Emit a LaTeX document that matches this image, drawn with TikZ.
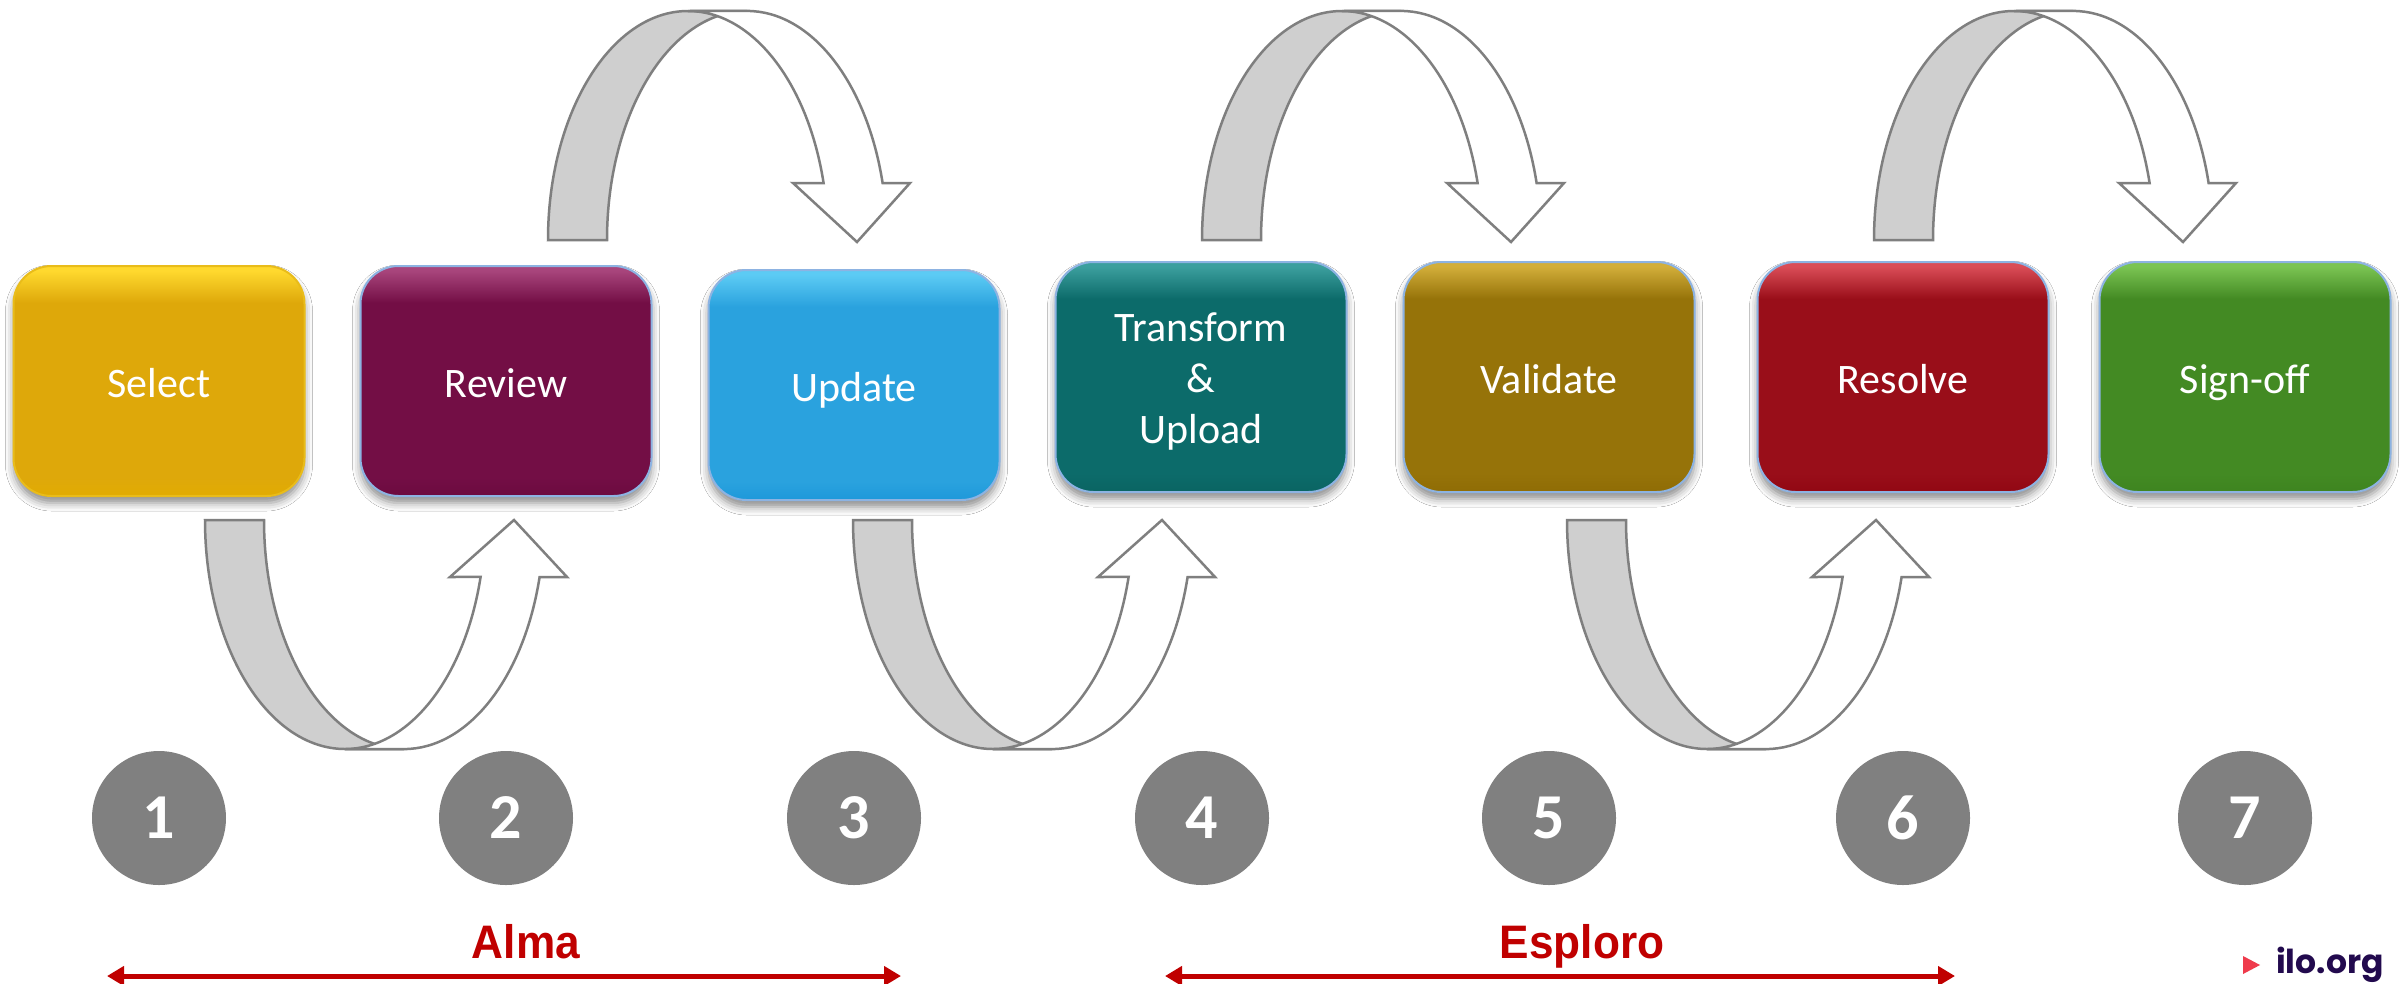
\documentclass[tikz,border=0pt]{standalone}
\usepackage{fontspec}
\setmainfont{Carlito}
\newfontfamily\phasefont[FakeStretch=0.94]{Liberation Sans}
\newfontfamily\ilofont{Poppins}
\usetikzlibrary{arrows.meta,shadows.blur}

\definecolor{arrowgrey}{HTML}{7F7F7F}
\definecolor{bandgrey}{HTML}{CFCFCF}
\definecolor{discgrey}{HTML}{808080}
\definecolor{phasered}{HTML}{C00000}
\definecolor{boxedge}{HTML}{8DB3E2}
\definecolor{ilored}{HTML}{EF3B4C}
\definecolor{ilotext}{HTML}{220A4E}
% box colours
\definecolor{selTop}{HTML}{FFD92E}\definecolor{selMain}{HTML}{DEA80A}\definecolor{selBot}{HTML}{E2AC02}\definecolor{selEdge}{HTML}{E9BC1A}
\definecolor{revTop}{HTML}{A8457C}\definecolor{revMain}{HTML}{730E45}\definecolor{revBot}{HTML}{6C0A3F}
\definecolor{updTop}{HTML}{5CCBF4}\definecolor{updMain}{HTML}{2AA2DE}\definecolor{updBot}{HTML}{1E98DA}
\definecolor{traTop}{HTML}{3C9F9E}\definecolor{traMain}{HTML}{0C6B6A}\definecolor{traBot}{HTML}{0A6462}
\definecolor{valTop}{HTML}{D2AE3A}\definecolor{valMain}{HTML}{967309}\definecolor{valBot}{HTML}{8F6C05}
\definecolor{resTop}{HTML}{DA4D57}\definecolor{resMain}{HTML}{990E19}\definecolor{resBot}{HTML}{910713}
\definecolor{sigTop}{HTML}{7BC453}\definecolor{sigMain}{HTML}{438A23}\definecolor{sigBot}{HTML}{3E8420}

\colorlet{bxtop}{white}\colorlet{bxmain}{gray}\colorlet{bxbot}{gray}
\pgfdeclareverticalshading[bxtop,bxmain,bxbot]{boxshade}{100bp}{color(0bp)=(bxbot); color(25bp)=(bxbot); color(29bp)=(bxmain); color(67bp)=(bxmain); color(74bp)=(bxtop); color(75bp)=(bxtop); color(100bp)=(bxtop)}

\tikzset{
  procbox/.style={rounded corners=38pt, minimum width=291pt, minimum height=230pt,
    inner sep=0pt, shade, shading=boxshade, line width=2pt,
    blur shadow={shadow xshift=0pt, shadow yshift=-7pt, shadow blur radius=8pt, shadow opacity=45}},
  boxlabel/.style={anchor=base, inner sep=0pt, text=white, font=\fontsize{42}{51}\selectfont},
  numdisc/.style={circle, fill=discgrey, minimum size=134pt, inner sep=0pt, text=white,
    font=\fontsize{64}{64}\selectfont\bfseries},
  greyband/.style={fill=bandgrey, draw=arrowgrey, line width=2.5pt},
  whiteband/.style={fill=white, draw=arrowgrey, line width=2.5pt},
  phaselabel/.style={anchor=base, inner sep=0pt, text=phasered, font=\phasefont\fontsize{47}{47}\selectfont\bfseries},
  phasearrow/.style={draw=phasered, line width=5pt, {Triangle[length=17pt,width=19pt]}-{Triangle[length=17pt,width=19pt]}}
}

\newcommand\procboxdraw[7]{%
  \begin{scope}
    \colorlet{bxtop}{#4}\colorlet{bxmain}{#5}\colorlet{bxbot}{#6}
    \node[procbox, draw=#7] (#1) at (#2,#3) {};
  \end{scope}}

% U-shaped arrow below (curved up arrow), #1 = left x
\newcommand\curveuparrow[1]{%
  \path[greyband] (#1,-520) arc[start angle=180,end angle=270,x radius=140,y radius=229]
     -- ({#1+199},-749) arc[start angle=270,end angle=180,x radius=140,y radius=229] -- cycle;
  \path[whiteband] ({#1+140},-749) arc[start angle=270,end angle=345.6,x radius=140,y radius=229]
     -- ({#1+245},-577) -- ({#1+309},-520) -- ({#1+362},-577) -- ({#1+334.6},-577)
     arc[start angle=345.6,end angle=270,x radius=140,y radius=229] -- cycle;}

% arch-shaped arrow above (curved down arrow), #1 = left x
\newcommand\curvedownarrow[1]{%
  \path[greyband] (#1,-240) arc[start angle=180,end angle=90,x radius=140,y radius=229]
     -- ({#1+199},-11) arc[start angle=90,end angle=180,x radius=140,y radius=229] -- cycle;
  \path[whiteband] ({#1+140},-11) arc[start angle=90,end angle=14.4,x radius=140,y radius=229]
     -- ({#1+245},-183) -- ({#1+309},-242) -- ({#1+362},-183) -- ({#1+334.6},-183)
     arc[start angle=14.4,end angle=90,x radius=140,y radius=229] -- cycle;}

\begin{document}
\begin{tikzpicture}[x=1pt,y=1pt]
\useasboundingbox[fill=white] (0,0) rectangle (2405,-983);

% curved arrows
\curveuparrow{205}
\curveuparrow{853}
\curveuparrow{1567}
\curvedownarrow{548}
\curvedownarrow{1202}
\curvedownarrow{1874}

% process boxes
\procboxdraw{b1}{159}{-381}{selTop}{selMain}{selBot}{selEdge}
\procboxdraw{b2}{506}{-381}{revTop}{revMain}{revBot}{boxedge}
\procboxdraw{b3}{854}{-385}{updTop}{updMain}{updBot}{boxedge}
\procboxdraw{b4}{1201}{-377}{traTop}{traMain}{traBot}{boxedge}
\procboxdraw{b5}{1549}{-377}{valTop}{valMain}{valBot}{boxedge}
\procboxdraw{b6}{1903}{-377}{resTop}{resMain}{resBot}{boxedge}
\procboxdraw{b7}{2245}{-377}{sigTop}{sigMain}{sigBot}{boxedge}

\node[boxlabel] (l1) at (159,-397) {Select};
\node[boxlabel] (l2) at (506,-397) {Review};
\node[boxlabel] (l3) at (854,-401) {Update};
\node[boxlabel] (l4a) at (1201,-341) {Transform};
\node[boxlabel] (l4b) at (1201,-392) {\&};
\node[boxlabel] (l4c) at (1201,-443) {Upload};
\node[boxlabel] (l5) at (1549,-393) {Validate};
\node[boxlabel] (l6) at (1903,-393) {Resolve};
\node[boxlabel] (l7) at (2245,-393) {Sign-off};

% numbered discs
\node[numdisc] (n1) at (159,-818) {1};
\node[numdisc] (n2) at (506,-818) {2};
\node[numdisc] (n3) at (854,-818) {3};
\node[numdisc] (n4) at (1202,-818) {4};
\node[numdisc] (n5) at (1549,-818) {5};
\node[numdisc] (n6) at (1903,-818) {6};
\node[numdisc] (n7) at (2245,-818) {7};

% phases
\node[phaselabel] (alma) at (526,-958) {Alma};
\coordinate (almaL) at (107,-976);
\coordinate (almaR) at (901,-976);
\draw[phasearrow] (almaL) -- (almaR);

\node[phaselabel] (esploro) at (1582,-958) {Esploro};
\coordinate (espL) at (1165,-976);
\coordinate (espR) at (1955,-976);
\draw[phasearrow] (espL) -- (espR);

% logo
\fill[ilored] (2243,-956) -- (2260,-965) -- (2243,-974) -- cycle;
\node[anchor=base west, inner sep=0pt, text=ilotext, font=\ilofont\fontsize{33}{33}\selectfont\bfseries] (ilo) at (2276,-973) {ilo.org};
\end{tikzpicture}
\end{document}
